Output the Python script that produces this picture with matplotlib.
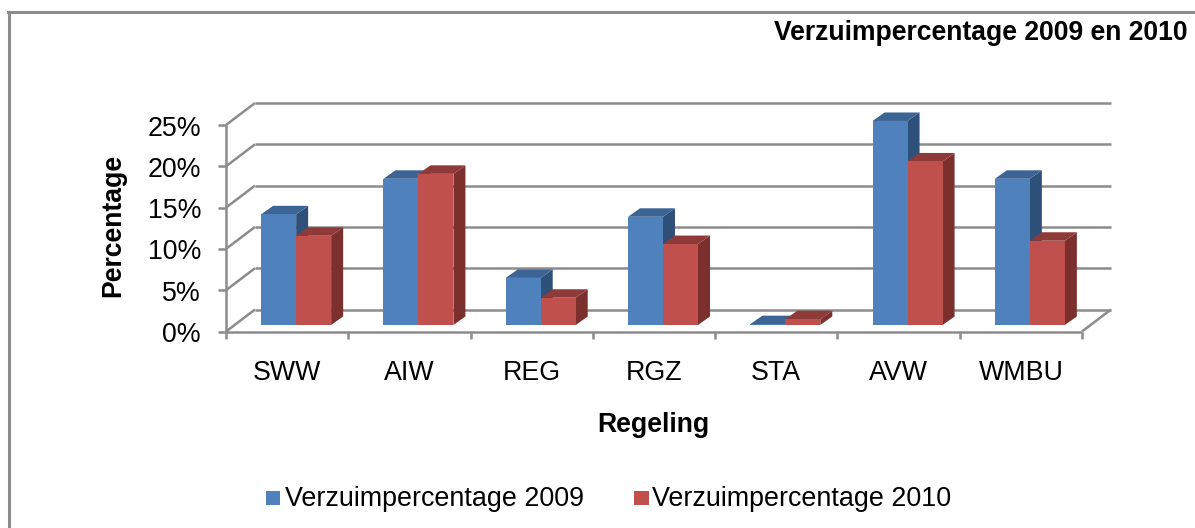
import matplotlib
matplotlib.use('Agg')
import matplotlib.pyplot as plt
from matplotlib.lines import Line2D
from matplotlib.patches import Polygon, Rectangle

categories = ['SWW', 'AIW', 'REG', 'RGZ', 'STA', 'AVW', 'WMBU']
verzuim_2009 = [13.4, 17.7, 5.7, 13.1, 0.1, 24.7, 17.7]
verzuim_2010 = [10.8, 18.3, 3.3, 9.8, 0.7, 19.8, 10.2]
y_ticks = [0, 5, 10, 15, 20, 25]

W, H = 1195, 528
X0, X1 = 226.0, 1082.0
Y0, Y25 = 331.5, 125.0
CAT_W = (X1 - X0) / len(categories)
PX_Y = (Y0 - Y25) / 25.0

# depth of the 3d box, in pixels
WALL_DX, WALL_DY = 29.0, 22.0
BAR_DX, BAR_DY = 12.0, 8.5
BAR_SHIFT_X, BAR_SHIFT_Y = 9.0, 6.5
BAR_W = 35.0

GRID = '#8c8c8c'
BLUE, BLUE_TOP, BLUE_SIDE = '#4f81bd', '#3c6494', '#2f5078'
RED, RED_TOP, RED_SIDE = '#c0504d', '#8e3a38', '#7b302e'

plt.rcParams['font.family'] = ['Liberation Sans', 'DejaVu Sans']

fig = plt.figure(figsize=(W / 100, H / 100), dpi=100)
ax = fig.add_axes([X0 / W, 1 - Y0 / H, (X1 - X0) / W, (Y0 - Y25) / H])
ax.set_xlim(0, len(categories))
ax.set_ylim(0, 25)
ax.axis('off')

dx = lambda px: px / CAT_W
dy = lambda px: px / PX_Y


def line(xs, ys, lw=1.8):
    ax.plot(xs, ys, color=GRID, lw=lw, clip_on=False, solid_capstyle='butt', zorder=1)


# walls and floor
for t in y_ticks:
    line([0, dx(WALL_DX)], [t, t + dy(WALL_DY)])
    line([dx(WALL_DX), len(categories) + dx(WALL_DX)], [t + dy(WALL_DY)] * 2)
    line([-dx(8), 0], [t, t])
line([0, 0], [0, 25])
line([0, len(categories)], [0, 0])
line([len(categories), len(categories) + dx(WALL_DX)], [0, dy(WALL_DY)])
for i in range(len(categories) + 1):
    line([i, i], [0, -dy(7)])


def bar3d(left, value, face, top, side):
    base = dy(BAR_SHIFT_Y)
    right = left + dx(BAR_W)
    h = base + value
    ox, oy = dx(BAR_DX), dy(BAR_DY)
    ax.add_patch(Polygon([(right, base), (right + ox, base + oy), (right + ox, h + oy), (right, h)],
                         fc=side, ec='none', clip_on=False, zorder=3))
    ax.add_patch(Polygon([(left, h), (left + ox, h + oy), (right + ox, h + oy), (right, h)],
                         fc=top, ec='none', clip_on=False, zorder=3))
    ax.add_patch(Polygon([(left, base), (right, base), (right, h), (left, h)],
                         fc=face, ec='none', clip_on=False, zorder=3))


for i in range(len(categories)):
    mid = i + 0.5 + dx(BAR_SHIFT_X)
    bar3d(mid - dx(BAR_W), verzuim_2009[i], BLUE, BLUE_TOP, BLUE_SIDE)
    bar3d(mid, verzuim_2010[i], RED, RED_TOP, RED_SIDE)
    ax.text(i + 0.5, -dy(42), categories[i], ha='center', va='center', fontsize=19.3, color='#000000')

for t in y_ticks:
    ax.text(-dx(25), t - dy(3.5), f'{t}%', ha='right', va='center', fontsize=19.3, color='#000000')

# outer frame, only top and left stay inside the picture
fig.add_artist(Line2D([8.5 / W, 8.5 / W], [0, 1 - 11.5 / H], color='#8c8c8c', lw=2.2))
fig.add_artist(Line2D([7.5 / W, 1], [1 - 11.5 / H, 1 - 11.5 / H], color='#8c8c8c', lw=2.2))

fig.text(1188 / W, 1 - 33.5 / H, 'Verzuimpercentage 2009 en 2010', ha='right', va='center',
         fontsize=19.1, fontweight='bold')
fig.text(113 / W, 1 - 225.5 / H, 'Percentage', rotation=90, ha='center', va='center',
         fontsize=19.2, fontweight='bold')
fig.text(653.5 / W, 1 - 425 / H, 'Regeling', ha='center', va='center', fontsize=19.2, fontweight='bold')

fig.add_artist(Rectangle((266 / W, 1 - 505 / H), 14 / W, 14 / H, transform=fig.transFigure, fc=BLUE, ec='none'))
fig.text(285 / W, 1 - 499.5 / H, 'Verzuimpercentage 2009', ha='left', va='center', fontsize=19.4)
fig.add_artist(Rectangle((634 / W, 1 - 505 / H), 14.5 / W, 14 / H, transform=fig.transFigure, fc=RED, ec='none'))
fig.text(652 / W, 1 - 499.5 / H, 'Verzuimpercentage 2010', ha='left', va='center', fontsize=19.4)

fig.savefig('out.png', dpi=100)
